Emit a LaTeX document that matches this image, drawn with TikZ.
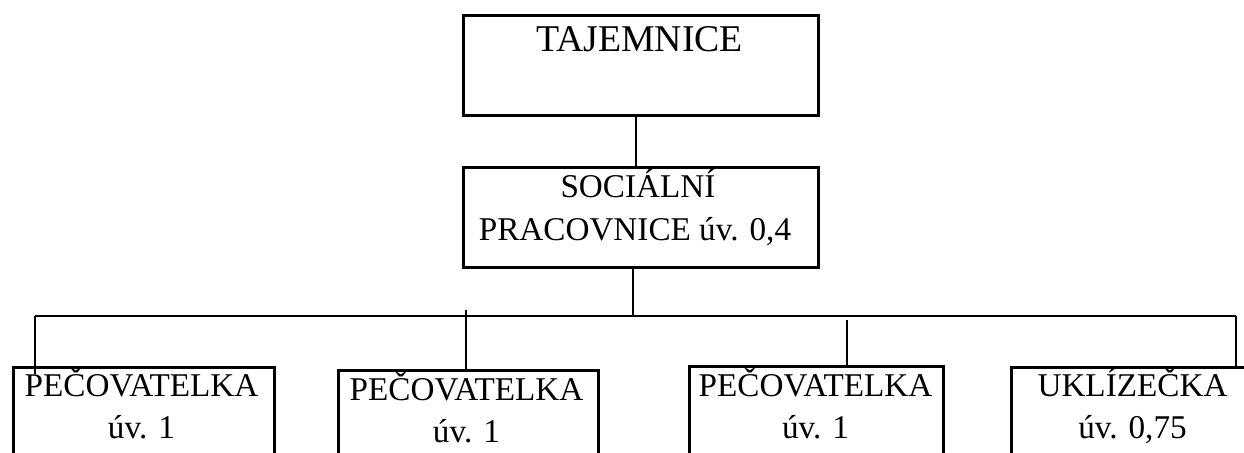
\documentclass[tikz,border=0pt]{standalone}
\usepackage{fontspec}
\setmainfont{Liberation Serif}
\usetikzlibrary{calc}
\begin{document}
\begin{tikzpicture}[x=0.5pt,y=-0.5pt,
  box/.style={draw=black,line width=1.3pt,inner sep=0pt,anchor=north west},
  conn/.style={draw=black,line width=0.6pt},
  txt/.style={inner sep=0pt,anchor=base,font=\fontsize{16.6}{21.5}\selectfont},
  bigtxt/.style={inner sep=0pt,anchor=base,font=\fontsize{18.9}{22}\selectfont}]
\useasboundingbox (0,0) rectangle (1244,453);
\clip (0,0) rectangle (1244,453);
% boxes
\node[box,minimum width=177.5pt,minimum height=50pt] (top) at (462,14) {};
\node[box,minimum width=177.5pt,minimum height=50pt] (soc) at (462,166) {};
\node[box,minimum width=130.5pt,minimum height=60pt] (b1) at (12,366) {};
\node[box,minimum width=130pt,minimum height=60pt] (b2) at (337,369) {};
\node[box,minimum width=127pt,minimum height=60pt] (b3) at (688,365) {};
\node[box,minimum width=125pt,minimum height=60pt] (b4) at (1010,366) {};
% texts
\node[bigtxt] (ttop) at (639.5,52) {TAJEMNICE};
\node[txt] (tsoc1) at (638,198) {SOCIÁLNÍ};
\node[txt] (tsoc2) at (635,241) {PRACOVNICE úv. 0,4};
\node[txt] (t1a) at (141.5,397) {PEČOVATELKA};
\node[txt] (t1b) at (141.5,439) {úv. 1};
\node[txt] (t2a) at (466.5,401) {PEČOVATELKA};
\node[txt] (t2b) at (466.5,443) {úv. 1};
\node[txt] (t3a) at (815.5,397) {PEČOVATELKA};
\node[txt] (t3b) at (815.5,439) {úv. 1};
\node[txt] (t4a) at (1132.5,397) {UKLÍZEČKA};
\node[txt] (t4b) at (1132.5,439) {úv. 0,75};
% bus coordinates
\coordinate (bus) at (633,316);
\coordinate (busL) at (35,316);
\coordinate (busR) at (1236,316);
\coordinate (d1end) at (35,374);
\coordinate (d2start) at (466,310);
\coordinate (d3start) at (847,320);
\coordinate (d0) at (636,0);
% connectors
\draw[conn] (d0 |- top.south) -- (d0 |- soc.north);
\draw[conn] (bus |- soc.south) -- (bus);
\draw[conn] (busL) -- (busR);
\draw[conn] (busL) -- (d1end);
\draw[conn] (d2start) -- (d2start |- b2.north);
\draw[conn] (d3start) -- (d3start |- b3.north);
\draw[conn] (busR) -- (busR |- b4.north);
\end{tikzpicture}
\end{document}
